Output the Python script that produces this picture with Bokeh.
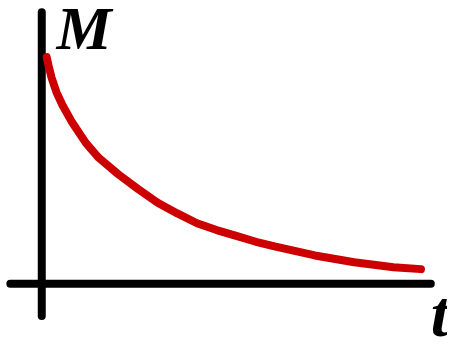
from bokeh.plotting import figure
from bokeh.models import Range1d
from bokeh.core.properties import value
from bokeh.embed import file_html
from bokeh.resources import INLINE

# Decay curve M(t) (t from vertical axis, M above horizontal axis)
t_values = [5, 7, 10, 13, 15, 21, 31, 45, 58, 78, 98, 118, 138, 158, 178, 198, 218, 238, 278, 318, 358, 386]
m_values = [232, 223, 211, 202, 196, 183, 165, 144, 129, 112, 97, 83, 72, 62, 55, 49, 43, 38, 29, 22, 17, 15]

# Axis extents (data units)
x_axis_t = [-32, 396]
x_axis_m = [0, 0]
y_axis_t = [0, 0]
y_axis_m = [-33, 278]

label_m = "M"
label_t = "t"

p = figure(width=447, height=337, output_backend="svg", toolbar_location=None,
           x_range=Range1d(-42, 413), y_range=Range1d(-55, 290),
           min_border=0, min_border_left=0, min_border_right=0,
           min_border_top=0, min_border_bottom=0)
p.axis.visible = False
p.grid.visible = False
p.outline_line_color = None
p.background_fill_color = "white"
p.border_fill_color = "white"

p.line(y_axis_t, y_axis_m, line_color="black", line_width=8, line_cap="round")
p.line(x_axis_t, x_axis_m, line_color="black", line_width=8, line_cap="round")
p.line(t_values, m_values, line_color="#cc0000", line_width=8, line_cap="round", line_join="round")

p.text(x=[15], y=[262], text=[label_m], text_font=value("Liberation Serif"),
       text_font_style="bold italic", text_font_size="62px", text_color="black",
       text_align="left", text_baseline="alphabetic")
p.text(x=[396], y=[-30], text=[label_t], text_font=value("Liberation Serif"),
       text_font_style="bold italic", text_font_size="66px", text_color="black",
       text_align="left", text_baseline="alphabetic")

open("out.html", "w").write(file_html(p, INLINE))
